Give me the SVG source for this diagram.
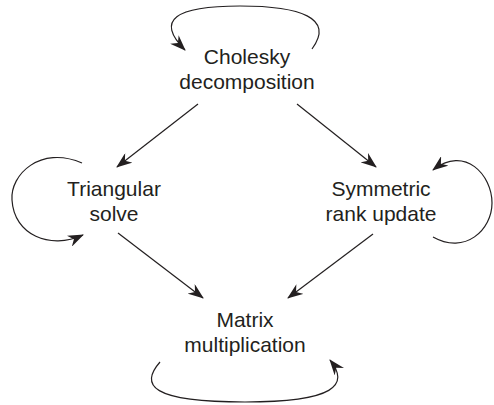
<svg xmlns="http://www.w3.org/2000/svg" width="494" height="405" viewBox="0 0 494 405">
<defs>
<marker id="ah" markerUnits="userSpaceOnUse" markerWidth="16" markerHeight="12" viewBox="0 0 16 12" refX="15" refY="6" orient="auto">
<path d="M0,0 L16,6 L0,12 L5,6 z" fill="#231f20"/>
</marker>
<style>
.lbl{font-family:"Liberation Sans",Arial,sans-serif;font-size:21px;fill:#231f20;text-anchor:middle}
.edge{fill:none;stroke:#231f20;stroke-width:1.2;marker-end:url(#ah)}
</style>
</defs>
<rect width="494" height="405" fill="#ffffff"/>
<g id="connectors">
<path class="edge" d="M312,49 C335,18 300,6 240,6 C175,6 155,20 185,50"/>
<path class="edge" d="M82,163 C40,145 10,175 12,200 C14,235 50,250 83,235"/>
<path class="edge" d="M433,237 C465,255 492,230 492,203 C492,175 465,145 433,170"/>
<path class="edge" d="M160,362 C140,385 150,402 245,402 C335,402 350,385 330,360"/>
<path class="edge" d="M198,104 L117,167"/>
<path class="edge" d="M297,104 L376,167"/>
<path class="edge" d="M118,233 L203,298"/>
<path class="edge" d="M373,234 L288,298"/>
</g>
<g id="cholesky">
<text class="lbl" x="247" y="63.5">Cholesky</text>
<text class="lbl" x="247" y="88.5">decomposition</text>
</g>
<g id="triangular">
<text class="lbl" x="114" y="196">Triangular</text>
<text class="lbl" x="114" y="221">solve</text>
</g>
<g id="symmetric">
<text class="lbl" x="381" y="196">Symmetric</text>
<text class="lbl" x="381" y="221">rank update</text>
</g>
<g id="matrix">
<text class="lbl" x="245" y="327">Matrix</text>
<text class="lbl" x="245" y="352">multiplication</text>
</g>
</svg>
